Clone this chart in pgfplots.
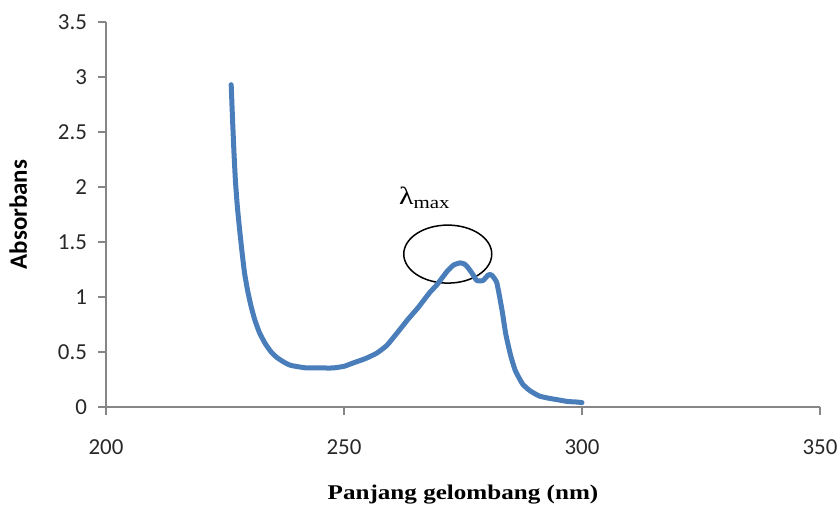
\documentclass[border=0pt]{standalone}
\usepackage{pgfplots}
\pgfplotsset{compat=1.18}
\usepackage{fontspec}
\setmainfont{Carlito}
\newfontfamily\timesfont{Liberation Serif}[FakeStretch=1.2]
\definecolor{lineblue}{RGB}{74,126,187}
\definecolor{axisgray}{RGB}{134,134,134}
\definecolor{ticktext}{RGB}{40,40,40}
\begin{document}
\begin{tikzpicture}
\useasboundingbox (-53bp,-51.5bp) rectangle (367bp,203.5bp);
\begin{axis}[
  at={(0,0)}, anchor=south west,
  scale only axis, width=357bp, height=192.5bp,
  xmin=200, xmax=350, ymin=0, ymax=3.5,
  axis x line*=bottom, axis y line*=left,
  xtick={200,250,300,350}, ytick={0,0.5,1,1.5,2,2.5,3,3.5},
  tick align=outside, major tick length=4bp,
  axis line style={axisgray, line width=0.6bp},
  tick style={axisgray, line width=0.6bp},
  /pgf/number format/assume math mode=true,
  ticklabel style={font=\fontsize{11.5}{13}\selectfont, text=ticktext},
  xticklabel style={anchor=north, yshift=-9bp},
  yticklabel style={anchor=east, xshift=-2bp},
  xlabel={Panjang gelombang (nm)},
  xlabel style={at={(axis description cs:0.5,0)}, anchor=center, yshift=-44bp,
     font=\timesfont\bfseries\fontsize{10.5}{12}\selectfont},
  ylabel={Absorbans},
  ylabel style={at={(axis description cs:-0.123,0.5)}, anchor=center,
     font=\bfseries\fontsize{12.5}{14}\selectfont},
  clip=false,
]
\draw[black, line width=0.75bp] (axis cs:271.8,1.39) ellipse [x radius=22bp, y radius=14.5bp];
\addplot[lineblue, line width=2.5bp, line cap=round, line join=round, smooth, tension=0.3, no markers] coordinates {
(226.3,2.93) (226.6,2.60) (226.9,2.30) (227.2,2.05) (227.6,1.82) (228.1,1.60)
(228.6,1.40) (229.1,1.22) (229.7,1.07) (230.4,0.93) (231.2,0.80) (232.2,0.68)
(233.4,0.58) (234.7,0.50) (235.9,0.45) (237.3,0.41) (238.7,0.38) (240.5,0.365) (242.2,0.355)
(245,0.355) (247.7,0.355) (250,0.37) (251.9,0.40) (254.5,0.44) (256.9,0.49)
(259,0.56) (261.1,0.67) (263.5,0.80) (265.5,0.90) (268,1.04) (269.5,1.11)
(271.6,1.23) (273,1.29) (274.4,1.31) (275.3,1.30) (276,1.27) (277,1.21)
(277.9,1.15) (279.2,1.15) (280.3,1.20) (281,1.20) (282.1,1.13) (283.2,0.88)
(284,0.66) (285,0.47) (286,0.33) (287.5,0.21) (289,0.15) (291,0.10)
(293,0.08) (295,0.065) (297,0.05) (299,0.045) (300,0.04)
};
\node at (axis cs:267,1.90) {\timesfont\fontsize{12.5}{14}\selectfont λ\textsubscript{max}};
\end{axis}
\end{tikzpicture}
\end{document}
